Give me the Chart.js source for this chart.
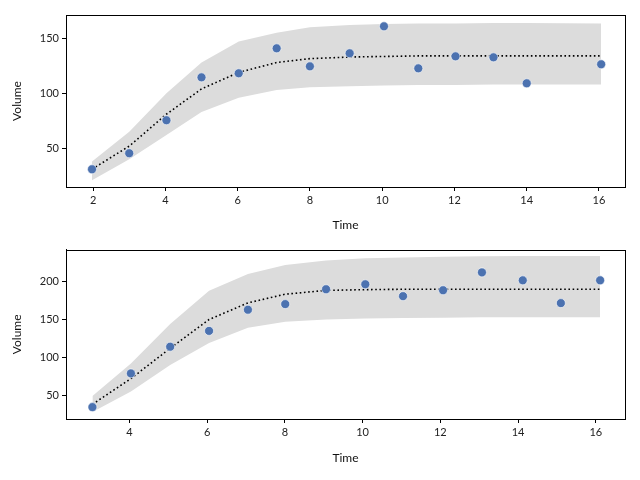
<!DOCTYPE html>
<html>
<head>
<meta charset="utf-8">
<script src="https://cdn.jsdelivr.net/npm/chart.js@4"></script>
<style>
  body { margin: 0; background: #fff; }
  .box { position: absolute; left: 0; width: 640px; height: 240px; }
</style>
</head>
<body>
<div class="box" style="top:0"><canvas id="top"></canvas></div>
<div class="box" style="top:240px"><canvas id="bottom"></canvas></div>
<script>
// top panel
const topX = [1.97, 3.0, 4.03, 5.0, 6.03, 7.08, 8.0, 9.1, 10.05, 11.0, 12.03, 13.08, 14.0, 16.06];
const topVolume = [30.9, 45.5, 75.5, 114.5, 118.2, 140.9, 124.5, 136.4, 160.9, 122.7, 133.6, 132.7, 109.1, 126.4];
const topMean = [31, 52, 81, 104, 119, 128, 131.5, 133, 133.5, 134, 134, 134, 134, 134];
const topUpper = [38, 65, 100, 128, 147, 155, 160, 162, 163, 163.5, 163.5, 164, 164, 163.5];
const topLower = [21, 40, 62, 83, 96, 103, 105.5, 106.5, 107, 107.5, 107.5, 108, 108, 108];
const topXTicks = [2, 4, 6, 8, 10, 12, 14, 16];
const topYTicks = [50, 100, 150];

// bottom panel
const botX = [3.05, 4.04, 5.05, 6.05, 7.05, 8.01, 9.06, 10.07, 11.04, 12.07, 13.07, 14.12, 15.1, 16.11];
const botVolume = [34.3, 78.8, 114.1, 135, 163, 170.4, 190, 196.6, 180.9, 188.7, 212.3, 201.8, 171.7, 201.8];
const botMean = [38, 72, 112, 150, 172, 183.5, 188.5, 189.5, 190, 190, 190, 190, 190, 190];
const botUpper = [49, 92, 144, 188, 210, 222, 228, 231, 232, 233, 233.5, 234, 234, 234];
const botLower = [28, 55, 90, 119, 139, 147, 150, 151.5, 152, 152.5, 153, 153, 153, 153];
const botXTicks = [4, 6, 8, 10, 12, 14, 16];
const botYTicks = [50, 100, 150, 200];

const FONT = 'Lato, "DejaVu Sans", sans-serif';
const pts = (xs, ys) => xs.map((x, i) => ({ x: x, y: ys[i] }));

// black box round the plot area, like matplotlib's spines
const frame = {
  id: 'frame',
  afterDraw(chart) {
    const a = chart.chartArea, c = chart.ctx;
    c.save();
    c.strokeStyle = '#000';
    c.lineWidth = 1;
    c.strokeRect(Math.round(a.left) + 0.5, Math.round(a.top) + 0.5,
      Math.round(a.right - a.left), Math.round(a.bottom - a.top));
    c.restore();
  }
};

function makePanel(id, xs, vol, mean, up, lo, xTicks, yTicks, xr, yr, pad, xH) {
  new Chart(document.getElementById(id), {
    type: 'scatter',
    data: {
      datasets: [
        { data: pts(xs, vol), backgroundColor: '#4c72b0', borderColor: '#fff',
          borderWidth: 0.6, pointRadius: 4.5, pointHoverRadius: 4.5 },
        { type: 'line', data: pts(xs, mean), borderColor: '#000', borderWidth: 1.6,
          borderDash: [1.6, 2.6], pointRadius: 0, tension: 0, fill: false },
        { type: 'line', data: pts(xs, up), borderWidth: 0, pointRadius: 0,
          tension: 0, fill: '+1', backgroundColor: '#dcdcdc' },
        { type: 'line', data: pts(xs, lo), borderWidth: 0, pointRadius: 0,
          tension: 0, fill: false }
      ]
    },
    options: {
      responsive: true,
      maintainAspectRatio: false,
      animation: false,
      layout: { padding: pad },
      plugins: { legend: { display: false }, tooltip: { enabled: false } },
      scales: {
        x: {
          type: 'linear', min: xr[0], max: xr[1],
          afterBuildTicks: s => { s.ticks = xTicks.map(v => ({ value: v })); },
          afterFit: s => { s.height = xH; },
          grid: { drawOnChartArea: false, tickLength: 4, color: '#000' },
          border: { color: '#000' },
          ticks: { color: '#222', font: { family: FONT, size: 11 }, padding: 3, maxRotation: 0 },
          title: { display: true, text: 'Time', color: '#111',
            font: { family: FONT, size: 12 }, padding: { top: 2, bottom: 2 } }
        },
        y: {
          min: yr[0], max: yr[1],
          afterBuildTicks: s => { s.ticks = yTicks.map(v => ({ value: v })); },
          afterFit: s => { s.width = 58; },
          grid: { drawOnChartArea: false, tickLength: 4, color: '#000' },
          border: { color: '#000' },
          ticks: { color: '#222', font: { family: FONT, size: 11 }, padding: 3 },
          title: { display: true, text: 'Volume', color: '#111',
            font: { family: FONT, size: 12 }, padding: { top: 2, bottom: 2 } }
        }
      }
    },
    plugins: [frame]
  });
}

makePanel('top', topX, topVolume, topMean, topUpper, topLower, topXTicks, topYTicks,
  [1.25, 16.72], [14.8, 171.2], { top: 15, right: 15, left: 8, bottom: 6 }, 47);
makePanel('bottom', botX, botVolume, botMean, botUpper, botLower, botXTicks, botYTicks,
  [2.37, 16.75], [18.6, 242.4], { top: 8, right: 15, left: 8, bottom: 13 }, 48);
</script>
</body>
</html>
